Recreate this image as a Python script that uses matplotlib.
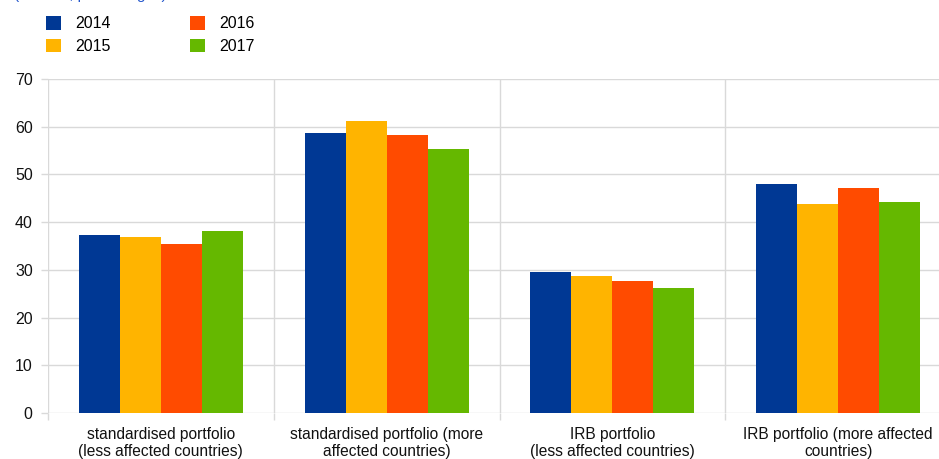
import matplotlib
matplotlib.use("Agg")
import matplotlib.pyplot as plt
from matplotlib.patches import Patch
import numpy as np

categories = [
    "standardised portfolio\n(less affected countries)",
    "standardised portfolio (more\naffected countries)",
    "IRB portfolio\n(less affected countries)",
    "IRB portfolio (more affected\ncountries)",
]
years = ["2014", "2015", "2016", "2017"]
values = {
    "2014": [37.3, 58.7, 29.5, 47.9],
    "2015": [36.9, 61.2, 28.8, 43.7],
    "2016": [35.4, 58.2, 27.6, 47.1],
    "2017": [38.1, 55.4, 26.3, 44.2],
}
colors = ["#003894", "#ffb400", "#ff4b00", "#65b800"]
yticks = [0, 10, 20, 30, 40, 50, 60, 70]

plt.rcParams['font.family'] = ['Liberation Sans', 'DejaVu Sans']

W, H = 939, 459
fig = plt.figure(figsize=(W / 100, H / 100), dpi=100)
ax = fig.add_axes([48 / W, (H - 413) / H, 903 / W, 334 / H])

x = np.arange(len(categories))
bw = 0.1816
for i, (yr, c) in enumerate(zip(years, colors)):
    ax.bar(x + (i - 1.5) * bw, values[yr], width=bw, color=c, zorder=3,
           edgecolor='none', label=yr)

ax.set_xlim(-0.5, 3.5)
ax.set_ylim(0, 70)
ax.set_yticks(yticks)
ax.set_xticks(x)
ax.set_xticklabels(categories, fontsize=11.2, color='#111111', linespacing=1.2)
ax.set_xticks([-0.5, 0.5, 1.5, 2.5, 3.5], minor=True)
ax.tick_params(axis='x', which='major', length=0, pad=10)
ax.tick_params(axis='x', which='minor', length=5, color='#d9d9d9', width=1)
ax.tick_params(axis='y', length=5, color='#d9d9d9', width=1, labelsize=11.5,
               labelcolor='#111111', pad=6)
ax.grid(axis='y', color='#d9d9d9', linewidth=1, zorder=0)
ax.grid(axis='x', which='minor', color='#d9d9d9', linewidth=1, zorder=0)
for s in ax.spines.values():
    s.set_visible(False)

handles = [Patch(facecolor=c, edgecolor='none') for c in colors]
fig.legend(handles, years, loc='upper left', bbox_to_anchor=(46 / W, 1 - 16 / H),
           ncol=2, frameon=False, fontsize=11.5, handlelength=0.95, handleheight=0.95,
           handletextpad=0.85, columnspacing=5.0, labelspacing=0.45, borderpad=0,
           borderaxespad=0)

fig.text(14 / W, 1 + 1 / H, "(median; percentages)", color='#2255cc', fontsize=11,
         va='baseline', ha='left')

fig.savefig("out.png", dpi=100)
